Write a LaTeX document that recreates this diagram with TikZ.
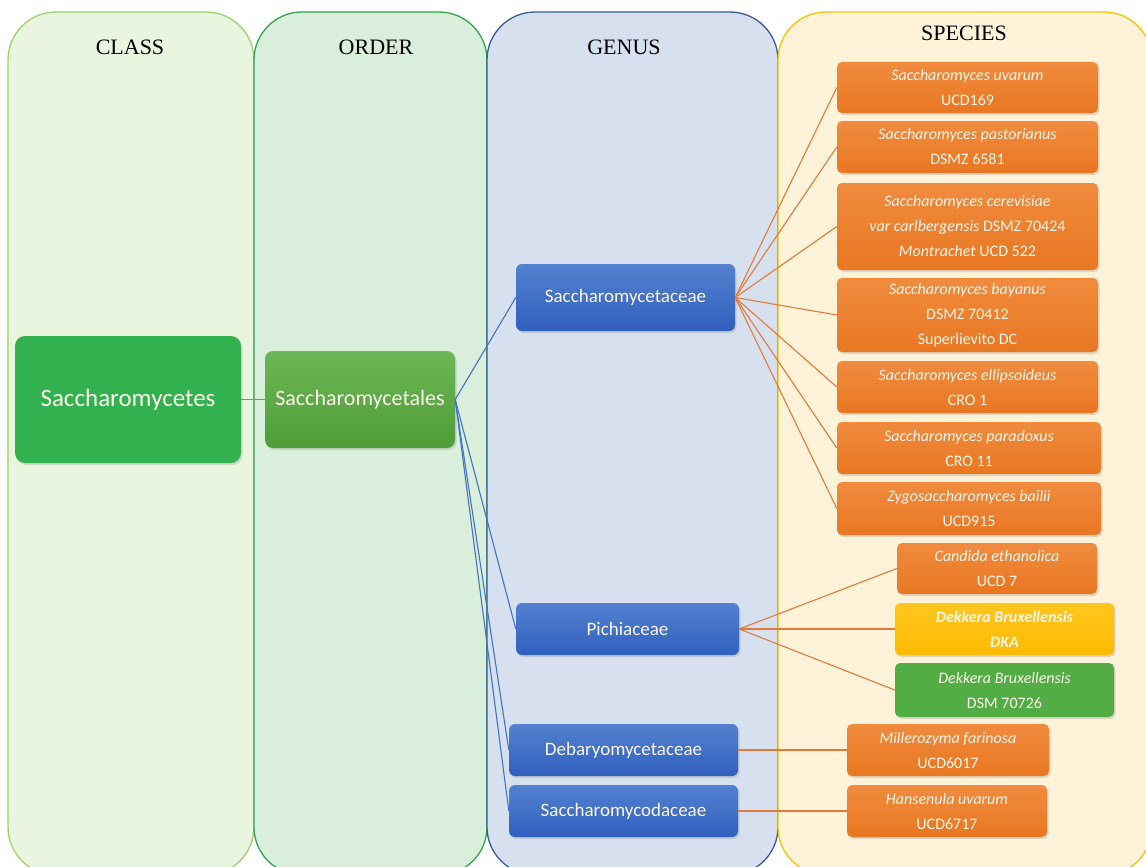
\documentclass[tikz,border=0pt]{standalone}
\usepackage{fontspec}
\setmainfont{Liberation Serif}
\newfontfamily\calfont{Carlito}
\usetikzlibrary{shadows}
\definecolor{classfill}{HTML}{EAF5E0}
\definecolor{classdraw}{HTML}{9BD36A}
\definecolor{orderfill}{HTML}{D9EEDB}
\definecolor{orderdraw}{HTML}{2EA84A}
\definecolor{genusfill}{HTML}{D7E0EF}
\definecolor{genusdraw}{HTML}{3A5A9A}
\definecolor{specfill}{HTML}{FEF2D8}
\definecolor{specdraw}{HTML}{FFC000}
\definecolor{clsgreen}{HTML}{31B24F}
\definecolor{ordtop}{HTML}{6CB755}
\definecolor{ordbot}{HTML}{4E9D39}
\definecolor{bluetop}{HTML}{5381D0}
\definecolor{bluebot}{HTML}{3060BE}
\definecolor{orgtop}{HTML}{F08B3E}
\definecolor{orgbot}{HTML}{E97722}
\definecolor{yeltop}{HTML}{FFC61E}
\definecolor{yelbot}{HTML}{FDBA00}
\definecolor{dsmgreen}{HTML}{52AE44}
\definecolor{bluelink}{HTML}{4472C4}
\definecolor{orglink}{HTML}{E27B3A}
\definecolor{greenlink}{HTML}{4CAF50}
\definecolor{boxtext}{HTML}{FDF6EC}
\begin{document}
\begin{tikzpicture}[x=1pt,y=-1pt,
  panel/.style={line width=1.3pt, rounded corners=48pt},
  hdr/.style={font=\fontsize{22}{26}\selectfont, text=black},
  boxbase/.style={inner sep=0pt, text=boxtext, align=center,
    drop shadow={opacity=0.25, shadow xshift=1.5pt, shadow yshift=-2pt}},
  clsbox/.style={boxbase, rounded corners=10pt, fill=clsgreen,
    font=\calfont\fontsize{25}{30}\selectfont},
  ordbox/.style={boxbase, rounded corners=8pt, top color=ordtop, bottom color=ordbot,
    font=\calfont\fontsize{22}{26}\selectfont},
  genbox/.style={boxbase, rounded corners=6pt, top color=bluetop, bottom color=bluebot,
    font=\calfont\fontsize{19}{23}\selectfont},
  spbox/.style={boxbase, rounded corners=5pt, top color=orgtop, bottom color=orgbot,
    font=\calfont\fontsize{16}{25}\selectfont},
  blink/.style={draw=bluelink, line width=1.1pt},
  olink/.style={draw=orglink, line width=1.1pt},
  glink/.style={draw=greenlink, line width=1.1pt}
]
\useasboundingbox (0,0) rectangle (1146,867);
\fill[white] (0,0) rectangle (1146,867);
% panels
\draw[panel, fill=classfill, draw=classdraw] (8,12) rectangle (254,875);
\draw[panel, fill=orderfill, draw=orderdraw] (254,12) rectangle (487,875);
\draw[panel, fill=genusfill, draw=genusdraw] (487,12) rectangle (778,875);
\draw[panel, fill=specfill, draw=specdraw] (778,12) rectangle (1152,875);
% headers
\node[hdr] (hclass) at (130,47) {CLASS};
\node[hdr] (horder) at (376,47) {ORDER};
\node[hdr] (hgenus) at (624,47) {GENUS};
\node[hdr] (hspec) at (964,33) {SPECIES};
% class / order
\node[clsbox, minimum width=226pt, minimum height=127pt] (cls) at (128,399.5) {Saccharomycetes};
\node[ordbox, minimum width=190pt, minimum height=97pt] (ord) at (360,399.5) {Saccharomycetales};
% genus
\node[genbox, minimum width=219pt, minimum height=67pt] (g1) at (625.5,297.5) {Saccharomycetaceae};
\node[genbox, minimum width=223pt, minimum height=52pt] (g2) at (627.5,629) {Pichiaceae};
\node[genbox, minimum width=229pt, minimum height=52pt] (g3) at (623.5,750) {Debaryomycetaceae};
\node[genbox, minimum width=229pt, minimum height=52pt] (g4) at (623.5,811) {Saccharomycodaceae};
% species
\node[spbox, minimum width=261pt, minimum height=51pt] (s1) at (967.5,87.5) {\textit{Saccharomyces uvarum}\\UCD169};
\node[spbox, minimum width=261pt, minimum height=52pt] (s2) at (967.5,147) {\textit{Saccharomyces pastorianus}\\DSMZ 6581};
\node[spbox, minimum width=261pt, minimum height=87pt] (s3) at (967.5,226.5) {\textit{Saccharomyces cerevisiae}\\\textit{var carlbergensis} DSMZ 70424\\\textit{Montrachet} UCD 522};
\node[spbox, minimum width=261pt, minimum height=74pt] (s4) at (967.5,315) {\textit{Saccharomyces bayanus}\\DSMZ 70412\\Superlievito DC};
\node[spbox, minimum width=261pt, minimum height=52pt] (s5) at (967.5,387) {\textit{Saccharomyces ellipsoideus}\\CRO 1};
\node[spbox, minimum width=264pt, minimum height=52pt] (s6) at (969,448) {\textit{Saccharomyces paradoxus}\\CRO 11};
\node[spbox, minimum width=264pt, minimum height=53pt] (s7) at (969,508.5) {\textit{Zygosaccharomyces bailii}\\UCD915};
\node[spbox, minimum width=200pt, minimum height=51pt] (s8) at (997,568.5) {\textit{Candida ethanolica}\\UCD 7};
\node[spbox, top color=yeltop, bottom color=yelbot, minimum width=219pt, minimum height=52pt] (s9) at (1004.5,629) {\textbf{\textit{Dekkera Bruxellensis}}\\\textbf{\textit{DKA}}};
\node[spbox, top color=dsmgreen, bottom color=dsmgreen, minimum width=219pt, minimum height=54pt] (s10) at (1004.5,690) {\textit{Dekkera Bruxellensis}\\DSM 70726};
\node[spbox, minimum width=202pt, minimum height=52pt] (s11) at (948,750) {\textit{Millerozyma farinosa}\\UCD6017};
\node[spbox, minimum width=200pt, minimum height=52pt] (s12) at (947,811) {\textit{Hansenula uvarum}\\UCD6717};
% connectors
\draw[glink] (cls.east) -- (ord.west);
\foreach \g in {g1,g2,g3,g4} \draw[blink] (ord.east) -- (\g.west);
\foreach \s in {s1,s2,s3,s4,s5,s6,s7} \draw[olink] (g1.east) -- (\s.west);
\foreach \s in {s8,s9,s10} \draw[olink] (g2.east) -- (\s.west);
\draw[olink] (g3.east) -- (s11.west);
\draw[olink] (g4.east) -- (s12.west);
\end{tikzpicture}
\end{document}
